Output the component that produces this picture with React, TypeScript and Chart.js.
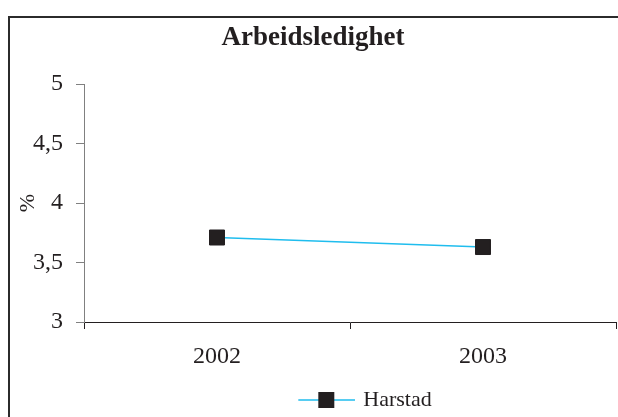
import React, { useEffect, useRef } from 'react';
import { Chart, registerables } from 'chart.js';

Chart.register(...registerables);

const chartTitle = 'Arbeidsledighet';
const categories = ['2002', '2003'];
const seriesName = 'Harstad';
const harstadValues = [3.71, 3.63];
const yTickLabels = ['3', '3,5', '4', '4,5', '5'];
const yAxisTitle = '%';

const FONT = '"Liberation Serif", "Times New Roman", Times, serif';
const LINE_COLOR = '#1fbdee';
const MARKER_COLOR = '#231f20';
const TEXT_COLOR = '#231f20';

function makeLegendSymbol(): HTMLCanvasElement {
  const c = document.createElement('canvas');
  c.width = 164;
  c.height = 18;
  const ctx = c.getContext('2d')!;
  ctx.strokeStyle = LINE_COLOR;
  ctx.lineWidth = 1.5;
  ctx.beginPath();
  ctx.moveTo(107, 9);
  ctx.lineTo(165, 9);
  ctx.stroke();
  ctx.fillStyle = MARKER_COLOR;
  ctx.fillRect(127, 1, 16, 16);
  return c;
}

export default function App() {
  const ref = useRef<HTMLCanvasElement | null>(null);

  useEffect(() => {
    if (!ref.current) return;
    const symbol = makeLegendSymbol();
    const chart = new Chart(ref.current, {
      type: 'line',
      data: {
        labels: categories,
        datasets: [
          {
            label: seriesName,
            data: harstadValues,
            borderColor: LINE_COLOR,
            borderWidth: 1.5,
            backgroundColor: MARKER_COLOR,
            pointStyle: 'rect',
            pointRadius: 10.6,
            pointBorderWidth: 1,
            pointBackgroundColor: MARKER_COLOR,
            pointBorderColor: MARKER_COLOR,
            tension: 0,
            fill: false,
          },
        ],
      },
      options: {
        animation: false,
        responsive: false,
        devicePixelRatio: 1,
        layout: { autoPadding: false, padding: { left: 10, right: 2, top: 0, bottom: 0 } },
        plugins: {
          title: {
            display: true,
            text: chartTitle,
            color: TEXT_COLOR,
            font: { family: FONT, size: 27, weight: 'bold' },
            padding: { top: 21.7, bottom: 29.9 },
          },
          legend: {
            position: 'bottom',
            labels: {
              color: TEXT_COLOR,
              font: { family: FONT, size: 22 },
              usePointStyle: true,
              pointStyleWidth: 158,
              padding: 4,
              generateLabels: () => [
                {
                  text: seriesName,
                  pointStyle: symbol as any,
                  fillStyle: MARKER_COLOR,
                  strokeStyle: MARKER_COLOR,
                  lineWidth: 1,
                  hidden: false,
                  datasetIndex: 0,
                  fontColor: TEXT_COLOR,
                } as any,
              ],
            },
          },
          tooltip: { enabled: false },
        },
        scales: {
          x: {
            type: 'category',
            offset: true,
            grid: {
              offset: true,
              drawOnChartArea: false,
              drawTicks: true,
              tickLength: 7,
              color: '#231f20',
            },
            border: { color: '#231f20', width: 1 },
            ticks: {
              color: TEXT_COLOR,
              font: { family: FONT, size: 24 },
              padding: 13.6,
              maxRotation: 0,
              autoSkip: false,
            },
          },
          y: {
            min: 3,
            max: 5,
            ticks: {
              stepSize: 0.5,
              color: TEXT_COLOR,
              font: { family: FONT, size: 24 },
              padding: 13,
              callback: (_v: any, i: number) => yTickLabels[i],
            },
            grid: {
              drawOnChartArea: false,
              drawTicks: true,
              tickLength: 8,
              color: '#808080',
            },
            border: { color: '#808080', width: 1 },
            title: {
              display: true,
              text: yAxisTitle,
              color: TEXT_COLOR,
              font: { family: FONT, size: 22 },
              padding: { top: 5, bottom: 0 },
            },
            afterFit: (s: any) => {
              s.width = 74;
            },
          },
        },
      },
    });
    return () => chart.destroy();
  }, []);

  return (
    <div
      style={{
        position: 'fixed',
        left: 0,
        top: 0,
        width: 618,
        height: 417,
        overflow: 'hidden',
        background: '#ffffff',
      }}
    >
      <canvas
        ref={ref}
        width={618}
        height={421}
        style={{ position: 'absolute', left: 0, top: 0, display: 'block' }}
      />
      <div
        style={{
          position: 'absolute',
          left: 8,
          top: 16,
          width: 800,
          height: 600,
          border: '2px solid #2b2b2b',
          pointerEvents: 'none',
        }}
      />
    </div>
  );
}
